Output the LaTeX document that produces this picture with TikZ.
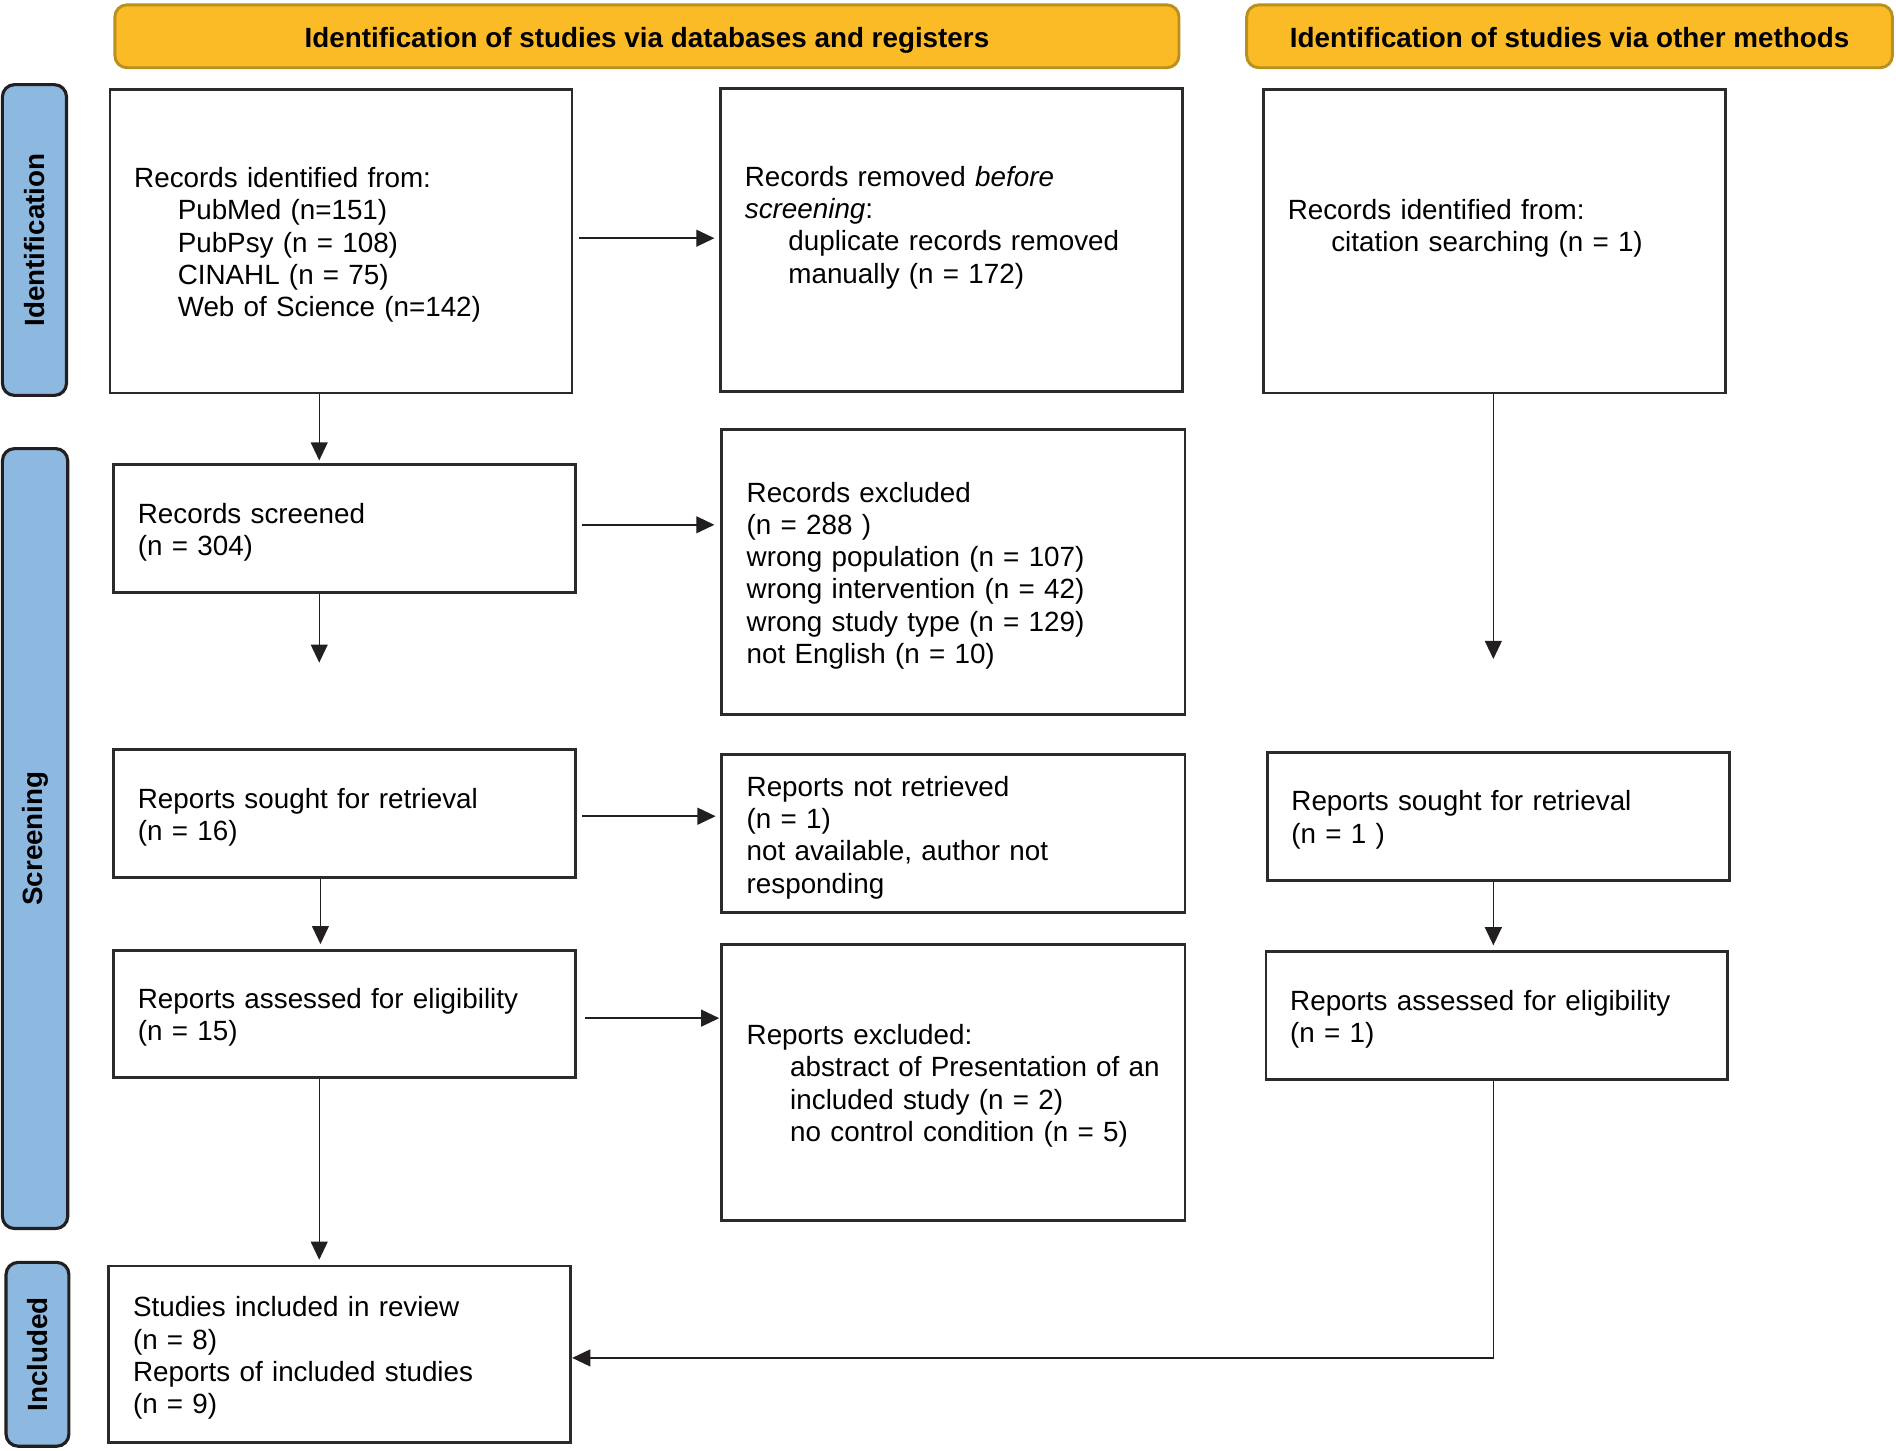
\documentclass[tikz,border=0pt]{standalone}
\usepackage{fontspec}
\setmainfont{Liberation Sans}
\usetikzlibrary{arrows.meta}
\definecolor{hdrfill}{HTML}{FBBB26}
\definecolor{hdrline}{HTML}{B8901E}
\definecolor{sidefill}{HTML}{8DB9E0}
\definecolor{sideline}{HTML}{231F20}
\definecolor{boxline}{HTML}{2B2B2B}
\definecolor{arrline}{HTML}{231F20}
\begin{document}
\begin{tikzpicture}[x=0.5pt,y=-0.5pt,
  every node/.style={font=\fontsize{11.5}{13.35}\selectfont},
  hdr/.style={draw=hdrline, fill=hdrfill, line width=1.2pt, rounded corners=5pt,
    minimum height=26pt, text height=12pt, text depth=2.4pt,
    font=\fontsize{11.5}{13.35}\selectfont\bfseries},
  side/.style={draw=sideline, fill=sidefill, line width=1.3pt, rounded corners=5pt,
    font=\fontsize{11.5}{13.35}\selectfont\bfseries},
  sidetxt/.style={rotate=90, font=\fontsize{11.5}{13.35}\selectfont\bfseries},
  flowbox/.style={draw=boxline, line width=1.2pt, minimum width=191pt,
    inner xsep=10pt, text width=171pt, align=left,
    execute at begin node={\rule{0pt}{11.4pt}}},
  arr/.style={draw=arrline, line width=0.6pt, -{Triangle[length=7.5pt,width=7pt]}},
  ln/.style={draw=arrline, line width=0.6pt}]
\useasboundingbox (0,0) rectangle (1568,1199.2);

% headers
\node[hdr, minimum width=440pt] (h1) at (535,30) {Identification of studies via databases and registers};
\node[hdr, minimum width=267pt] (h2) at (1298,30) {Identification of studies via other methods};

% side bars
\node[side, minimum width=26.5pt, minimum height=128.5pt] (s1) at (28.5,198.5) {};
\node[sidetxt] (s1t) at (s1.center) {Identification};
\node[side, minimum width=27pt, minimum height=322.5pt] (s2) at (29,693.5) {};
\node[sidetxt] (s2t) at (s2.center) {Screening};
\node[side, minimum width=26pt, minimum height=76pt] (s3) at (31,1120) {};
\node[sidetxt] (s3t) at (s3.center) {Included};

% boxes
\node[flowbox, minimum height=125.5pt] (b1) at (282,199.5) {Records identified from:\\
\hspace*{18pt}PubMed (n=151)\\
\hspace*{18pt}PubPsy (n = 108)\\
\hspace*{18pt}CINAHL (n = 75)\\
\hspace*{18pt}Web of Science (n=142)};
\node[flowbox, minimum height=125.5pt] (b2) at (787,198.5) {Records removed \textit{before}\\
\textit{screening}:\\
\hspace*{18pt}duplicate records removed\\
\hspace*{18pt}manually (n = 172)\\[2.5pt] ~};
\node[flowbox, minimum height=125.5pt] (b3) at (1236,199.5) {Records identified from:\\
\hspace*{18pt}citation searching (n = 1)\\[3pt] ~};
\node[flowbox, minimum height=53pt] (b4) at (285,437) {Records screened\\(n = 304)};
\node[flowbox, minimum width=191.5pt, minimum height=118pt] (b5) at (788.5,473) {Records excluded\\
(n = 288 )\\
wrong population (n = 107)\\
wrong intervention (n = 42)\\
wrong study type (n = 129)\\
not English (n = 10)};
\node[flowbox, minimum height=53pt] (b6) at (285,673) {Reports sought for retrieval\\(n = 16)};
\node[flowbox, minimum width=191.5pt, minimum height=65.5pt] (b7) at (788.5,689.5) {Reports not retrieved\\
(n = 1)\\
not available, author not\\
responding};
\node[flowbox, minimum height=53pt] (b8) at (1239,675) {Reports sought for retrieval\\(n = 1 )};
\node[flowbox, minimum height=52.5pt] (b9) at (285,838.5) {Reports assessed for eligibility\\(n = 15)};
\node[flowbox, minimum width=191.5pt, minimum height=114pt] (b10) at (788.5,895) {Reports excluded:\\
\hspace*{18pt}abstract of Presentation of an\\
\hspace*{18pt}included study (n = 2)\\
\hspace*{18pt}no control condition (n = 5)};
\node[flowbox, minimum height=53pt] (b11) at (1238,840) {Reports assessed for eligibility\\(n = 1)};
\node[flowbox, minimum height=73pt] (b12) at (281,1120) {Studies included in review\\
(n = 8)\\
Reports of included studies\\
(n = 9)};

% helper coordinates
\coordinate (colL) at (264,0);
\coordinate (colLb) at (265,0);
\coordinate (colR) at (1235,0);
\coordinate (d1) at (264,548);
\coordinate (d2) at (1235,545);
\coordinate (bend) at (1235,1123);

% horizontal arrows
\draw[arr, shorten <=2.5pt, shorten >=2pt] ([yshift=1.25pt]b1.east) -- ([yshift=1.25pt]b1.east -| b2.west);
\draw[arr, shorten <=2pt, shorten >=2.5pt] ([yshift=1.5pt]b4.east) -- ([yshift=1.5pt]b4.east -| b5.west);
\draw[arr, shorten <=2pt, shorten >=2pt] ([yshift=-1pt]b6.east) -- ([yshift=-1pt]b6.east -| b7.west);
\draw[arr, shorten <=3.5pt, shorten >=0.5pt] ([yshift=-1.75pt]b9.east) -- ([yshift=-1.75pt]b9.east -| b10.west);

% vertical arrows
\draw[arr, shorten >=1pt] (b1.south -| colL) -- (b4.north -| colL);
\draw[arr] (b4.south -| colL) -- (d1);
\draw[arr] (b3.south -| colR) -- (d2);
\draw[arr, shorten >=2pt] (b6.south -| colLb) -- (b9.north -| colLb);
\draw[arr, shorten >=2pt] (b8.south -| colR) -- (b11.north -| colR);
\draw[arr, shorten >=2pt] (b9.south -| colL) -- (b12.north -| colL);
\draw[arr] (b11.south -| colR) -- (bend) -- (bend -| b12.east);
\end{tikzpicture}
\end{document}
